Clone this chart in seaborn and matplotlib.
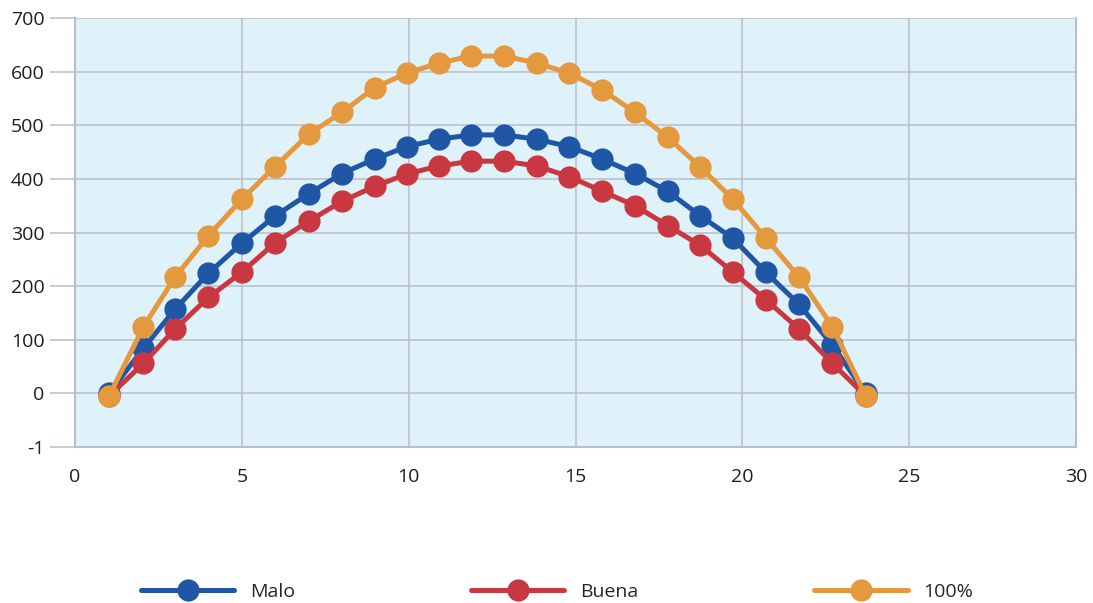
import matplotlib
matplotlib.use("Agg")
import matplotlib.pyplot as plt
import seaborn as sns
import pandas as pd
from matplotlib.lines import Line2D

x_vals = [1.02, 2.05, 3.0, 4.0, 5.0, 6.0, 7.0, 8.0, 8.98, 9.94, 10.9, 11.88,
          12.86, 13.84, 14.82, 15.8, 16.78, 17.76, 18.74, 19.72, 20.7, 21.7, 22.7, 23.7]
malo = [0, 84, 157, 224, 280, 331, 372, 410, 437, 460, 474, 482,
        482, 474, 460, 437, 410, 377, 331, 289, 226, 166, 90, 0]
buena = [-5, 56, 120, 179, 226, 281, 321, 358, 386, 409, 424, 433,
         433, 424, 404, 377, 350, 313, 276, 226, 175, 120, 56, -5]
full = [-5, 124, 217, 294, 362, 423, 483, 524, 570, 597, 616, 629,
        629, 616, 597, 566, 524, 478, 422, 362, 290, 217, 124, -5]
series_names = ["Malo", "Buena", "100%"]
y_ticks = [-100, 0, 100, 200, 300, 400, 500, 600, 700]
y_labels = ["-1", "0", "100", "200", "300", "400", "500", "600", "700"]
x_ticks = [0, 5, 10, 15, 20, 25, 30]

colors = {"Malo": "#1f56a5", "Buena": "#c93841", "100%": "#e5993f"}

rows = []
for name, vals in zip(series_names, [malo, buena, full]):
    for xv, yv in zip(x_vals, vals):
        rows.append({"x": xv, "y": yv, "serie": name})
df = pd.DataFrame(rows)

sns.set_theme(style="white")
plt.rcParams["font.family"] = ["Open Sans", "DejaVu Sans"]

fig = plt.figure(figsize=(10.93, 6.03), dpi=100)
ax = fig.add_axes([75/1093, 1 - 447/603, (1076-75)/1093, (447-18)/603])
ax.set_facecolor("#dff1f9")

sns.lineplot(data=df, x="x", y="y", hue="serie", palette=colors, marker="o",
             markersize=16, linewidth=3.6, markeredgewidth=0, sort=False,
             legend=False, ax=ax, zorder=3)

ax.set_xlim(0, 30)
ax.set_ylim(-100, 700)
ax.set_xticks(x_ticks)
ax.set_yticks(y_ticks)
ax.set_yticklabels(y_labels)
ax.set_xlabel("")
ax.set_ylabel("")
ax.grid(True, color="#b9bfc8", linewidth=1.1, zorder=0)
ax.set_axisbelow(True)
for s in ["left", "bottom", "right"]:
    ax.spines[s].set_visible(True)
    ax.spines[s].set_color("#b9bfc8")
    ax.spines[s].set_linewidth(1.5)
ax.spines["top"].set_visible(False)
ax.tick_params(axis="y", which="major", length=18, color="#b9bfc8", width=1.1,
               labelsize=14, labelcolor="#1e1e1e", left=True, pad=4)
ax.tick_params(axis="x", length=0, labelsize=14, labelcolor="#1e1e1e", pad=15)

handles = [Line2D([0], [0], color=colors[n], marker="o", markersize=16,
                  linewidth=3.6, markeredgewidth=0) for n in series_names]
fig.legend(handles, series_names, loc="center",
           bbox_to_anchor=(557/1093, 1 - 592/603), bbox_transform=fig.transFigure,
           ncol=3, frameon=False, fontsize=14, handlelength=4.8,
           columnspacing=9.05, handletextpad=0.8)

fig.savefig("out.png", dpi=100)
